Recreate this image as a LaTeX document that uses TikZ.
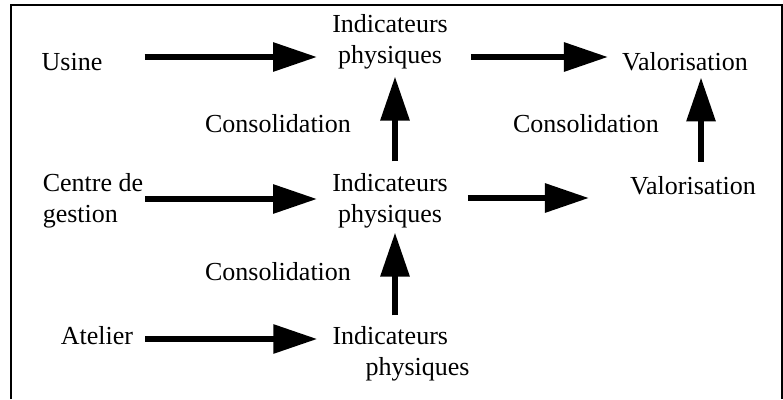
\documentclass[tikz,border=0pt]{standalone}
\usepackage{fontspec}
\setmainfont{Liberation Serif}
\usetikzlibrary{arrows.meta}

\tikzset{
  lbl/.style={font=\fontsize{26}{31}\selectfont, inner sep=0pt, align=center},
  flow/.style={line width=6pt, -{Triangle[length=44pt,width=28pt]}}
}

\begin{document}
\begin{tikzpicture}[x=1pt,y=-1pt]

            \useasboundingbox (0,0) rectangle (783,399);
            % frame, open at the bottom
            \draw[line width=1.8pt] (11,399) -- (11,5) -- (782,5) -- (782,399);

            \path   (72,62)   node (usine)   [lbl] {Usine}
                    (390,42)  node (ind1)    [lbl] {Indicateurs\\physiques}
                    (685,62)  node (val1)    [lbl] {Valorisation}
                    (278,124) node (cons1)   [lbl] {Consolidation}
                    (586,124) node (cons2)   [lbl] {Consolidation}
                    (93,201)  node (centre)  [lbl,align=left] {Centre de\\gestion}
                    (390,201) node (ind2)    [lbl] {Indicateurs\\physiques}
                    (693,186) node (val2)    [lbl] {Valorisation}
                    (278,272) node (cons3)   [lbl] {Consolidation}
                    (97,336)  node (atelier) [lbl] {Atelier}
                    (401,354) node (ind3)    [lbl,align=left] {Indicateurs\\\hspace*{33pt}physiques};

            \draw[flow,shorten <=42pt,shorten >=15pt] ([yshift=5pt]usine.east) -- ([yshift=5pt]usine.east -| ind1.west);
            \draw[flow,shorten <=23pt,shorten >=14pt] ([yshift=5pt]val1.west -| ind1.east) -- ([yshift=5pt]val1.west);
            \draw[flow,shorten <=2pt,shorten >=15pt]  ([yshift=2pt]centre.east) -- ([yshift=2pt]centre.east -| ind2.west);
            \draw[flow,shorten <=20pt,shorten >=41pt] ([yshift=3pt]ind2.east) -- ([yshift=3pt]ind2.east -| val2.west);
            \draw[flow,shorten <=12pt,shorten >=15pt] ([yshift=-3pt]atelier.east) -- ([yshift=-3pt]atelier.east -| ind3.west);

            \draw[flow,shorten <=12pt,shorten >=7pt] ([xshift=5pt]ind2.north) -- ([xshift=5pt]ind1.south);
            \draw[flow,shorten <=11pt,shorten >=4pt] ([xshift=5pt]ind2.south |- ind3.north) -- ([xshift=5pt]ind2.south);
            \draw[flow,shorten <=15pt,shorten >=6pt] ([xshift=8pt]val2.north) -- ([xshift=8pt]val2.north |- val1.south);
        \end{tikzpicture}
\end{document}
